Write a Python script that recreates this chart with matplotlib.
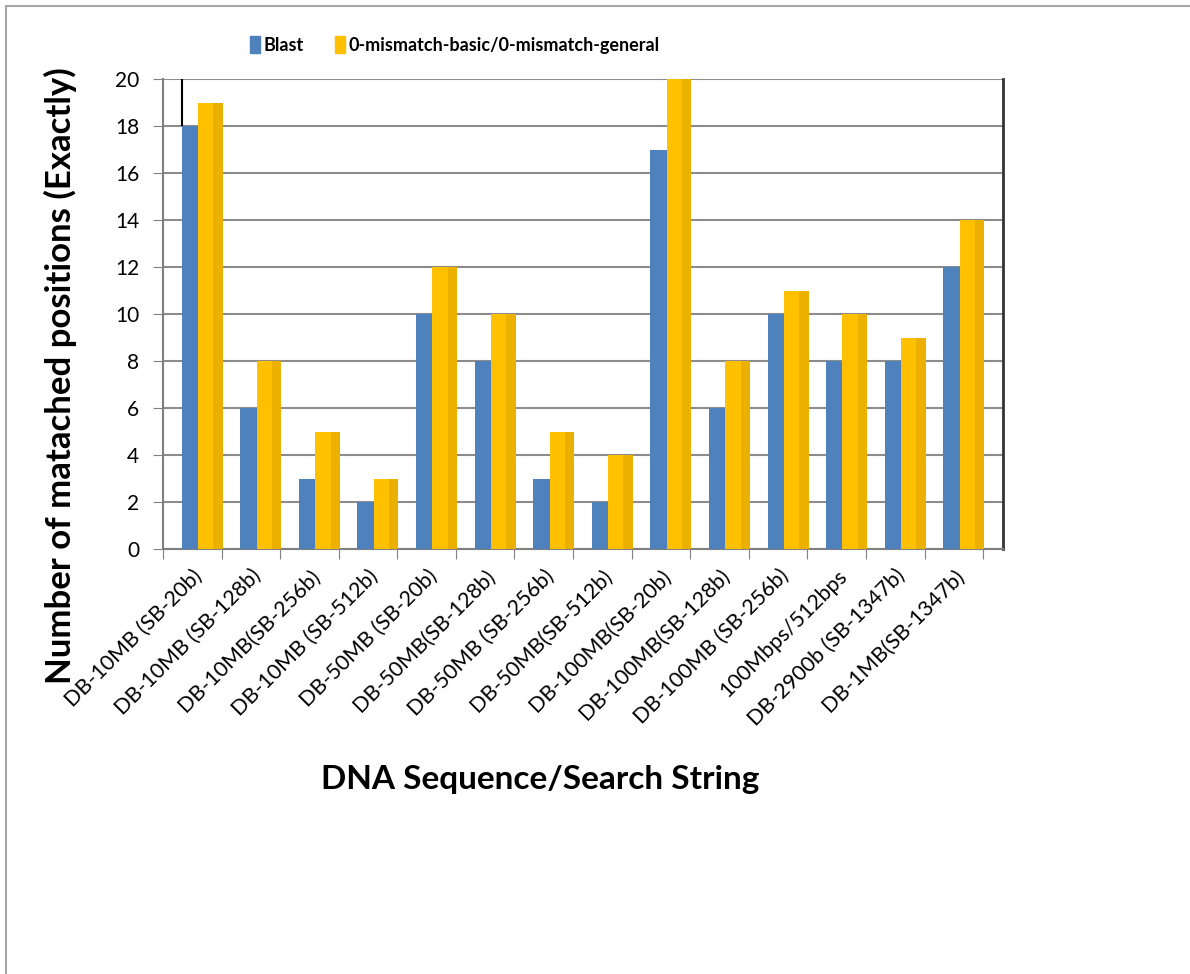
import matplotlib
matplotlib.use("Agg")
import matplotlib.pyplot as plt
from matplotlib.patches import Rectangle
from matplotlib.transforms import ScaledTranslation
import numpy as np

categories = [
    "DB-10MB (SB-20b)", "DB-10MB (SB-128b)", "DB-10MB(SB-256b)", "DB-10MB (SB-512b)",
    "DB-50MB (SB-20b)", "DB-50MB(SB-128b)", "DB-50MB (SB-256b)", "DB-50MB(SB-512b)",
    "DB-100MB(SB-20b)", "DB-100MB(SB-128b)", "DB-100MB (SB-256b)", "100Mbps/512bps",
    "DB-2900b (SB-1347b)", "DB-1MB(SB-1347b)",
]
blast = [18, 6, 3, 2, 10, 8, 3, 2, 17, 6, 10, 8, 8, 12]
zero_mismatch = [19, 8, 5, 3, 12, 10, 5, 4, 20, 8, 11, 10, 9, 14]
series_names = ["Blast", "0-mismatch-basic/0-mismatch-general"]
yticks = list(range(0, 21, 2))

BLUE = "#4F81BD"
GOLD = "#FFC000"
GOLD_DARK = "#EBB000"
FONT = "Lato"

W, H = 1190, 974
fig = plt.figure(figsize=(W / 100, H / 100), dpi=100)
fig.patch.set_facecolor("white")
# outer frame
fig.add_artist(Rectangle((6 / W, -0.05), 1.2, 1 - 6 / H + 0.05,
                         transform=fig.transFigure, fill=False,
                         edgecolor="#A6A6A6", linewidth=1.5))

ax = fig.add_axes([163 / W, 1 - 549 / H, (1003 - 163) / W, (549 - 79) / H])
x = np.arange(len(categories))

ax.bar(x - 0.18, blast, width=0.30, align="edge", color=BLUE, linewidth=0, zorder=3)
ax.bar(x + 0.10, zero_mismatch, width=0.42, align="edge", color=GOLD, linewidth=0, zorder=4)
# darker shaded right edge on the gold bars
ax.bar(x + 0.36, zero_mismatch, width=0.16, align="edge", color=GOLD_DARK, linewidth=0, zorder=5)
# marker line above the first Blast bar
ax.vlines(x[0] - 0.18, blast[0], yticks[-1], color="black", linewidth=1.5, zorder=6)

ax.set_ylim(0, 20)
ax.set_xlim(-0.5, 13.84)
ax.set_yticks(yticks)
ax.set_yticklabels([str(v) for v in yticks], fontsize=15, family=FONT)
ax.set_xticks(np.arange(len(categories) + 1) - 0.5)
ax.set_xticklabels([])
ax.set_xticks(x, minor=True)
ax.set_xticklabels(categories, minor=True, rotation=45, ha="right",
                   rotation_mode="anchor", fontsize=15.5, family=FONT)
shift = ScaledTranslation(-9 / 100, 0, fig.dpi_scale_trans)
for lbl in ax.get_xticklabels(minor=True):
    lbl.set_transform(lbl.get_transform() + shift)
ax.tick_params(axis="x", which="minor", length=0, pad=12)
ax.tick_params(axis="x", which="major", length=7, color="#808080", direction="out")
ax.tick_params(axis="y", length=7, color="#808080", pad=10)
ax.grid(axis="y", color="#8C8C8C", linewidth=1.5, zorder=0)
ax.set_axisbelow(True)
for side in ("left", "bottom"):
    ax.spines[side].set_color("#7F7F7F")
    ax.spines[side].set_linewidth(1.5)
ax.spines["top"].set_visible(False)
ax.spines["right"].set_color("#333333")
ax.spines["right"].set_linewidth(2)

fig.text(60 / W, 1 - 376 / H, "Number of matached positions (Exactly)", rotation=90,
         ha="center", va="center", fontsize=25, fontweight="bold", family=FONT)
fig.text(540 / W, 1 - 780 / H, "DNA Sequence/Search String", ha="center", va="center",
         fontsize=24, fontweight="bold", family=FONT)

# legend drawn at the top of the figure
handles = [Rectangle((0, 0), 1, 1, color=BLUE), Rectangle((0, 0), 1, 1, color=GOLD)]
fig.legend(handles, series_names, loc="center", bbox_to_anchor=(455 / W, 1 - 45 / H),
           ncol=2, frameon=False, handlelength=0.55, handleheight=1.1, handletextpad=0.2,
           columnspacing=1.7, prop={"family": FONT, "weight": "bold", "size": 13})

fig.savefig("out.png", dpi=100)
